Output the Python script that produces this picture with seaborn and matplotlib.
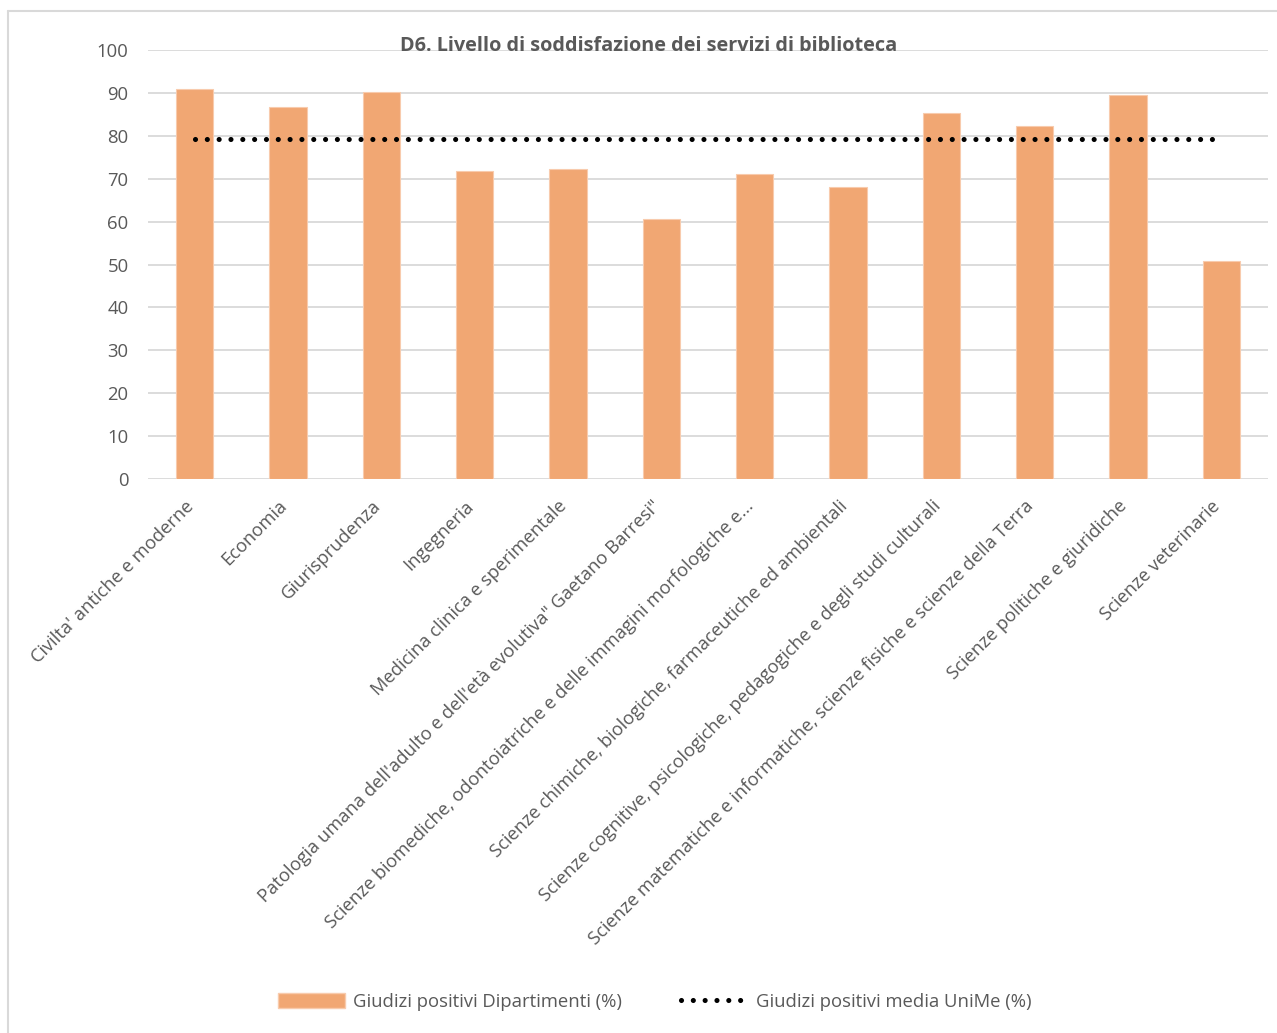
import matplotlib
matplotlib.use("Agg")
import matplotlib.pyplot as plt
import matplotlib.transforms as mtransforms
import seaborn as sns
import pandas as pd
from matplotlib.lines import Line2D
from matplotlib.patches import Patch

categories = [
    "Civilta' antiche e moderne",
    "Economia",
    "Giurisprudenza",
    "Ingegneria",
    "Medicina clinica e sperimentale",
    "Patologia umana dell'adulto e dell'età evolutiva\" Gaetano Barresi\"",
    "Scienze biomediche, odontoiatriche e delle immagini morfologiche e...",
    "Scienze chimiche, biologiche, farmaceutiche ed ambientali",
    "Scienze cognitive, psicologiche, pedagogiche e degli studi culturali",
    "Scienze matematiche e informatiche, scienze fisiche e scienze della Terra",
    "Scienze politiche e giuridiche",
    "Scienze veterinarie",
]
dept_values = [91.0, 86.7, 90.2, 71.8, 72.3, 60.6, 71.1, 68.1, 85.4, 82.2, 89.4, 50.9]
unime_mean = 79.3
mean_values = [unime_mean] * len(categories)
yticks = [0, 10, 20, 30, 40, 50, 60, 70, 80, 90, 100]

title = "D6. Livello di soddisfazione dei servizi di biblioteca"
legend_bar = "Giudizi positivi Dipartimenti (%)"
legend_line = "Giudizi positivi media UniMe (%)"

sns.set_style("white")
plt.rcParams['font.family'] = ['Open Sans', 'DejaVu Sans']

text_color = "#595959"
grid_color = "#D9D9D9"
bar_color = "#F1A773"

df = pd.DataFrame({"Dipartimento": categories, "Valore": dept_values, "Media": mean_values})

fig = plt.figure(figsize=(12.77, 10.33), dpi=100)
ax = fig.add_axes([148 / 1277, 1 - 479 / 1033, (1268 - 148) / 1277, (479 - 50) / 1033])

sns.barplot(data=df, x="Dipartimento", y="Valore", color=bar_color, width=0.4,
            saturation=1, edgecolor="#F8CBAD", linewidth=0.8, ax=ax, zorder=3)
sns.lineplot(data=df, x="Dipartimento", y="Media", color="black", linewidth=3.7,
             linestyle=(0, (0.001, 2.3)), dash_capstyle="round", ax=ax, zorder=4)

ax.set_xlim(-0.5, len(categories) - 0.5)
ax.set_ylim(0, 100)
ax.set_yticks(yticks)
ax.set_yticklabels([str(v) for v in yticks], fontsize=13.3, color=text_color)
ax.yaxis.grid(True, color=grid_color, linewidth=1.3, zorder=0)
ax.set_axisbelow(True)
for s in ax.spines.values():
    s.set_visible(False)
ax.tick_params(axis="y", length=0, pad=14)
ax.tick_params(axis="x", length=0, pad=13)
ax.set_xlabel("")
ax.set_ylabel("")
ax.set_xticks(range(len(categories)))
ax.set_xticklabels(categories, rotation=45, ha="right", rotation_mode="anchor",
                   fontsize=13.2, color=text_color)
offset = mtransforms.ScaledTranslation(-10 / 100, 0, fig.dpi_scale_trans)
for lbl in ax.get_xticklabels():
    lbl.set_transform(lbl.get_transform() + offset)

fig.text(649 / 1277, 1 - 46 / 1033, title, ha="center", va="center",
         fontsize=14.3, fontweight="bold", color=text_color)

handles = [
    Patch(facecolor=bar_color, edgecolor="#F8CBAD", label=legend_bar),
    Line2D([0], [0], color="black", linewidth=3.7, linestyle=(0, (0.001, 2.3)),
           dash_capstyle="round", label=legend_line),
]
fig.legend(handles=handles, loc="center", bbox_to_anchor=(655 / 1277, 1 - 1002 / 1033),
           ncol=2, frameon=False, fontsize=13.3, labelcolor=text_color,
           handlelength=3.6, handleheight=0.85, columnspacing=3.2, handletextpad=0.45)

# chart area border (top and left visible)
fig.add_artist(Line2D([8 / 1277, 1.0], [1 - 11 / 1033, 1 - 11 / 1033],
                      transform=fig.transFigure, color=grid_color, linewidth=1.5))
fig.add_artist(Line2D([8 / 1277, 8 / 1277], [0.0, 1 - 11 / 1033],
                      transform=fig.transFigure, color=grid_color, linewidth=1.5))

fig.savefig("out.png", dpi=100)
